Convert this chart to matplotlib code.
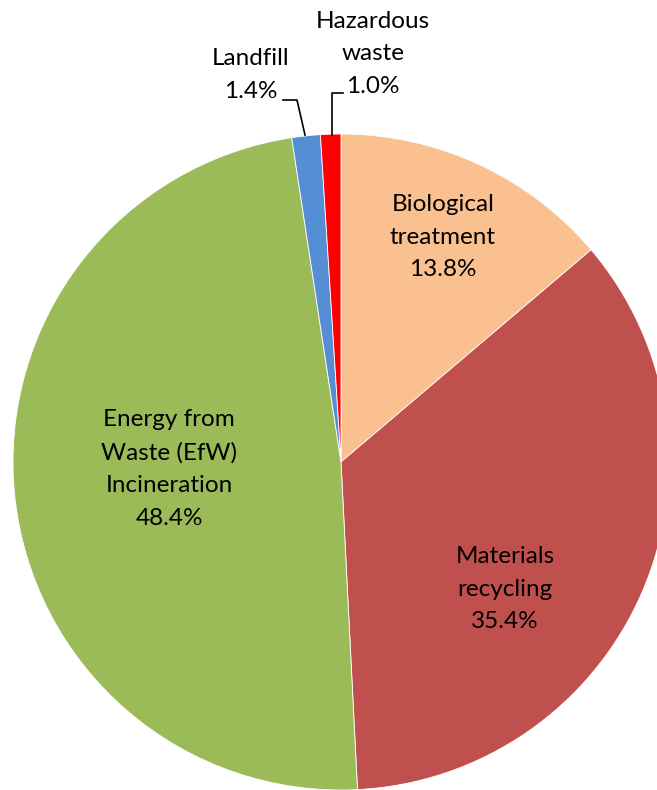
import matplotlib.pyplot as plt

# waste treatment shares, clockwise from 12 o'clock
categories = ["Biological\ntreatment", "Materials\nrecycling",
              "Energy from\nWaste (EfW)\nIncineration", "Landfill", "Hazardous\nwaste"]
shares = [13.8, 35.4, 48.4, 1.4, 1.0]
colors = ["#FAC090", "#C0504D", "#9BBB59", "#558ED5", "#FF0000"]

plt.rcParams['font.family'] = ['Lato', 'DejaVu Sans']

fig = plt.figure(figsize=(6.57, 7.9), dpi=100)
ax = fig.add_axes([0, 0, 1, 1])

W, H = 657, 790
cx, cy, r = 341, H - 462, 328

ax.pie(shares, colors=colors, startangle=90, counterclock=False,
       center=(cx, cy), radius=r,
       wedgeprops=dict(edgecolor="white", linewidth=0.6))

# label positions (pixel coords from the top)
label_pos = [(443, 237), (505, 589), (169, 469), (251, 75), (373, 54)]
for name, val, (lx, ly) in zip(categories, shares, label_pos):
    ax.text(lx, H - ly, f"{name}\n{val:.1f}%", ha="center", va="center",
            fontsize=17.5, linespacing=1.67, color="black")

# leader lines for the two small slices
ax.plot([283, 297, 305], [H - 100, H - 100, H - 135], color="black", lw=1.2)
ax.plot([343, 332, 332], [H - 93, H - 93, H - 135], color="black", lw=1.2)

ax.set_xlim(0, W)
ax.set_ylim(0, H)
ax.set_aspect("equal")
ax.axis("off")

fig.savefig("out.png", dpi=100)
